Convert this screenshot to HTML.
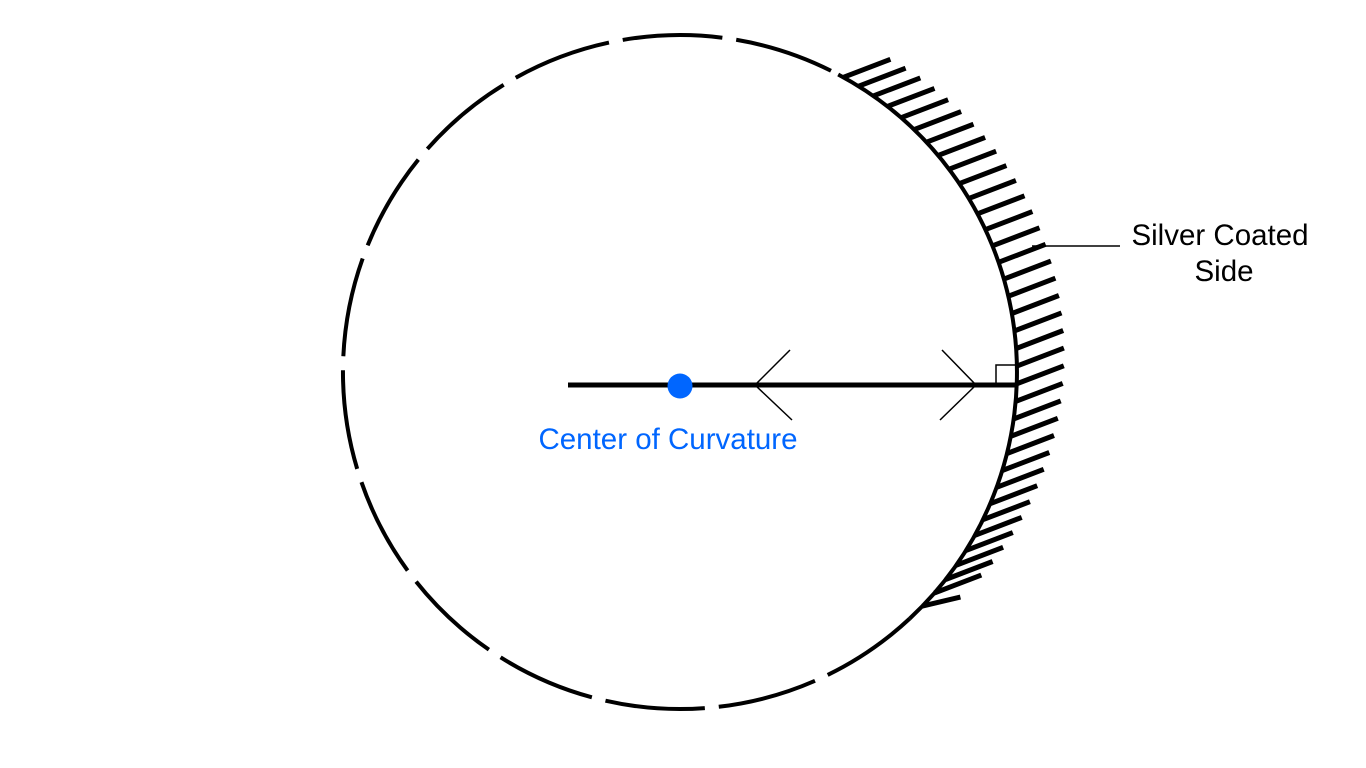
<!DOCTYPE html>
<html><head><meta charset="utf-8"><style>html,body{margin:0;padding:0;background:#fff;}svg{display:block}</style></head>
<body>
<svg width="1366" height="768" viewBox="0 0 1366 768" xmlns="http://www.w3.org/2000/svg">
<g fill="none" stroke="#000" stroke-width="4">
<path d="M838.2,74.5 A337,337 0 0 1 909.8,618.5"/>
<path d="M909.8,618.5 A337,337 0 1 1 838.2,74.5" stroke-dasharray="100 14"/>
</g>
<g stroke="#000" stroke-width="5">
<line x1="843.4" y1="77.3" x2="890.4" y2="59.3"/>
<line x1="858.6" y1="86.2" x2="905.6" y2="68.2"/>
<line x1="873.3" y1="95.9" x2="920.3" y2="77.9"/>
<line x1="887.5" y1="106.4" x2="934.5" y2="88.4"/>
<line x1="901.1" y1="117.7" x2="948.1" y2="99.7"/>
<line x1="914.1" y1="129.6" x2="961.1" y2="111.6"/>
<line x1="926.5" y1="142.2" x2="973.5" y2="124.2"/>
<line x1="938.1" y1="155.4" x2="985.1" y2="137.4"/>
<line x1="949.1" y1="169.2" x2="996.1" y2="151.2"/>
<line x1="959.4" y1="183.6" x2="1006.4" y2="165.6"/>
<line x1="968.9" y1="198.4" x2="1015.9" y2="180.4"/>
<line x1="977.5" y1="213.8" x2="1024.5" y2="195.8"/>
<line x1="985.4" y1="229.6" x2="1032.4" y2="211.6"/>
<line x1="992.5" y1="245.8" x2="1039.5" y2="227.8"/>
<line x1="998.6" y1="262.3" x2="1045.6" y2="244.3"/>
<line x1="1003.9" y1="279.1" x2="1050.9" y2="261.1"/>
<line x1="1008.4" y1="296.2" x2="1055.4" y2="278.2"/>
<line x1="1011.9" y1="313.5" x2="1058.9" y2="295.5"/>
<line x1="1014.5" y1="330.9" x2="1061.5" y2="312.9"/>
<line x1="1016.2" y1="348.5" x2="1063.2" y2="330.5"/>
<line x1="1016.9" y1="366.1" x2="1063.9" y2="348.1"/>
<line x1="1016.8" y1="383.8" x2="1063.8" y2="365.8"/>
<line x1="1015.7" y1="401.4" x2="1062.7" y2="383.4"/>
<line x1="1013.7" y1="418.9" x2="1060.7" y2="400.9"/>
<line x1="1010.8" y1="436.3" x2="1057.8" y2="418.3"/>
<line x1="1007.0" y1="453.5" x2="1054.0" y2="435.5"/>
<line x1="1002.3" y1="470.5" x2="1049.3" y2="452.5"/>
<line x1="996.7" y1="487.3" x2="1043.7" y2="469.3"/>
<line x1="990.2" y1="503.7" x2="1037.2" y2="485.7"/>
<line x1="982.9" y1="519.7" x2="1029.9" y2="501.7"/>
<line x1="974.7" y1="535.4" x2="1021.7" y2="517.4"/>
<line x1="965.8" y1="550.6" x2="1012.8" y2="532.6"/>
<line x1="956.1" y1="565.3" x2="1003.1" y2="547.3"/>
<line x1="945.6" y1="579.5" x2="992.6" y2="561.5"/>
<line x1="934.3" y1="593.1" x2="981.3" y2="575.1"/>
<line x1="922.4" y1="606.1" x2="960.4" y2="597.1"/>
</g>
<line x1="568" y1="385" x2="1017" y2="385" stroke="#000" stroke-width="5"/>
<g fill="none" stroke="#000" stroke-width="1.5">
<polyline points="790,350 755,385 792,420"/>
<polyline points="942,350 976,385 940,420"/>
<polyline points="996,385 996,365 1016,365"/>
<line x1="1032" y1="246" x2="1120" y2="246"/>
</g>
<circle cx="680" cy="386" r="12.5" fill="#0066ff"/>
<g font-family="Liberation Sans, Arial, sans-serif" font-size="29.5">
<text x="668" y="449" text-anchor="middle" fill="#0066ff">Center of Curvature</text>
<text x="1220" y="245" text-anchor="middle" fill="#000">Silver Coated</text>
<text x="1224" y="281" text-anchor="middle" fill="#000">Side</text>
</g>
</svg>
</body></html>
